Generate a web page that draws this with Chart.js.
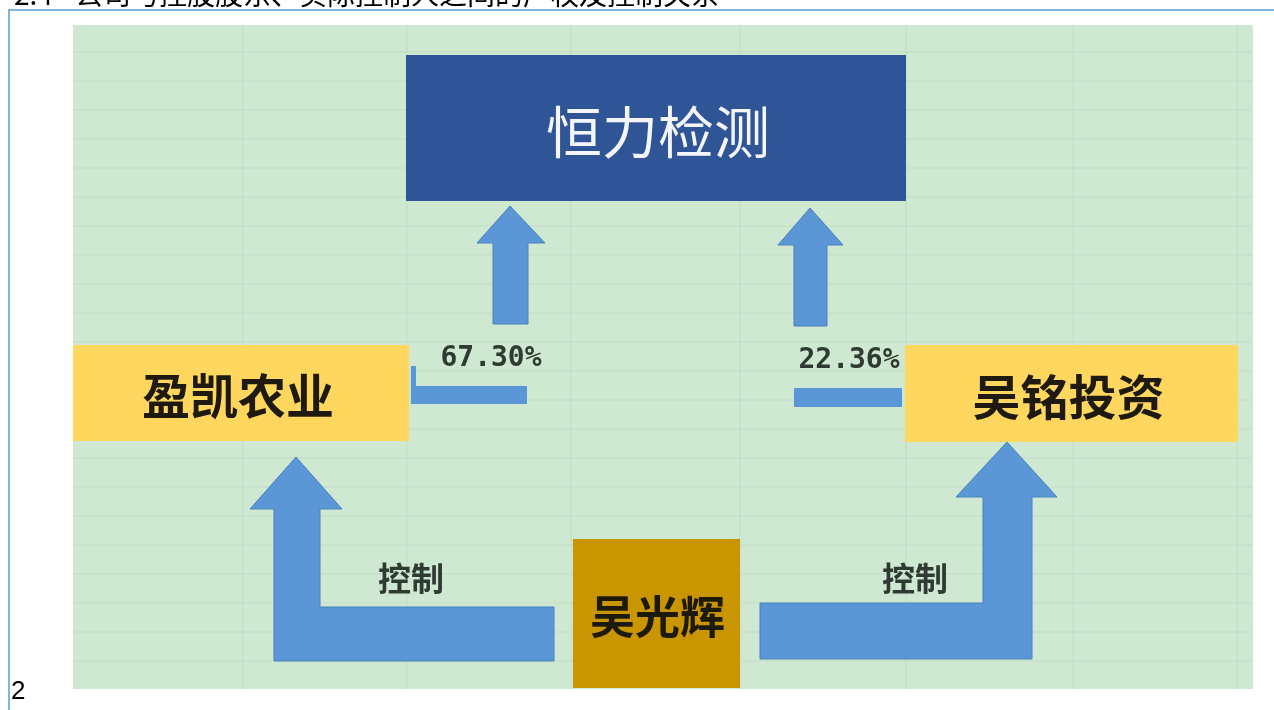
<!DOCTYPE html>
<html>
<head>
<meta charset="utf-8">
<script src="https://cdn.jsdelivr.net/npm/chart.js@4/dist/chart.umd.min.js"></script>
<style>
html, body { margin: 0; padding: 0; background: #fff; }
#wrap { width: 1274px; height: 710px; }
</style>
</head>
<body>
<div id="wrap"><canvas id="structureChart"></canvas></div>
<script>
// Chart data
const headingNumber = '2.4';
const headingText = '公司与控股股东、实际控制人之间的产权及控制关系';
const pageNumber = '2';
const companyName = '恒力检测';
const shareholders = ['盈凯农业', '吴铭投资'];
const shareholdings = [67.30, 22.36];
const controller = '吴光辉';
const controlLabels = ['控制', '控制'];

// Layout in page units (x scale runs 0..1274, y scale 0..710 top-down)
const layout = {
    picture: { x0: 73, y0: 25, x1: 1253, y1: 689 },
    gridCols: [243, 407, 571, 740, 906, 1073, 1237],
    gridRows: [52, 81, 110, 139, 168, 197, 226, 255, 284, 313, 342, 371, 400, 429, 458, 487, 516, 545, 574, 603, 632, 661],
    company: { x0: 406, y0: 55, x1: 906, y1: 201 },
    holders: [{ x0: 73, y0: 345, x1: 409, y1: 441 }, { x0: 905, y0: 345, x1: 1238, y1: 442 }],
    controller: { x0: 573, y0: 539, x1: 740, y1: 688 },
    upArrows: [
        { tx: 510, ty: 206, hl: 477, hr: 545, hb: 243, sl: 493, sr: 528, sb: 324 },
        { tx: 810, ty: 208, hl: 778, hr: 843, hb: 245, sl: 794, sr: 827, sb: 326 }
    ],
    stubs: [
        [[413, 386, 527, 404], [411, 366, 416, 404]],
        [[794, 388, 902, 407]]
    ],
    stakeText: [{ x: 491, y: 371 }, { x: 849, y: 373 }],
    controlArrows: [
        [[296, 457], [342, 509], [320, 509], [320, 607], [554, 607], [554, 661], [274, 661], [274, 509], [250, 509]],
        [[1007, 442], [1057, 497], [1032, 497], [1032, 659], [760, 659], [760, 603], [983, 603], [983, 497], [956, 497]]
    ],
    controlText: [{ x: 411, y: 578 }, { x: 915, y: 578 }]
};

const colors = {
    frame: '#5b9bd5',
    picture: '#cee8d1',
    grid: 'rgba(185,205,190,0.35)',
    company: '#2f5597',
    holder: '#ffd75e',
    controller: '#c99500',
    arrow: '#5b97d6',
    arrowEdge: '#4a80c0',
    label: '#2f3a33'
};

const cjk = '"Noto Sans CJK SC", "Noto Sans", sans-serif';

const diagramPlugin = {
    id: 'diagram',
    afterDatasetsDraw(chart) {
        const ctx = chart.ctx;
        const xs = chart.scales.x, ys = chart.scales.y;
        const X = v => xs.getPixelForValue(v);
        const Y = v => ys.getPixelForValue(v);
        const rect = (r, fill) => {
            ctx.fillStyle = fill;
            ctx.fillRect(X(r.x0), Y(r.y0), X(r.x1) - X(r.x0), Y(r.y1) - Y(r.y0));
        };
        const poly = pts => {
            ctx.beginPath();
            pts.forEach((p, i) => i ? ctx.lineTo(X(p[0]), Y(p[1])) : ctx.moveTo(X(p[0]), Y(p[1])));
            ctx.closePath();
            ctx.fillStyle = colors.arrow;
            ctx.fill();
            ctx.strokeStyle = colors.arrowEdge;
            ctx.lineWidth = 1;
            ctx.stroke();
        };
        const text = (str, x, y, font, fill) => {
            ctx.font = font;
            ctx.fillStyle = fill;
            ctx.textAlign = 'center';
            ctx.textBaseline = 'middle';
            ctx.fillText(str, X(x), Y(y));
        };

        ctx.save();

        // page heading, cut off at top edge
        ctx.fillStyle = '#000';
        ctx.font = '28px ' + cjk;
        ctx.textAlign = 'left';
        ctx.textBaseline = 'alphabetic';
        ctx.fillText(headingNumber, X(14), Y(5));
        ctx.fillText(headingText, X(75), Y(5));

        // frame
        ctx.strokeStyle = colors.frame;
        ctx.lineWidth = 1.5;
        ctx.beginPath();
        ctx.moveTo(X(1274), Y(10));
        ctx.lineTo(X(9), Y(10));
        ctx.lineTo(X(9), Y(710));
        ctx.stroke();

        // page number
        ctx.fillStyle = '#000';
        ctx.font = '26px "Liberation Sans", sans-serif';
        ctx.textAlign = 'left';
        ctx.textBaseline = 'alphabetic';
        ctx.fillText(pageNumber, X(11), Y(699));

        // picture background with spreadsheet grid
        const p = layout.picture;
        rect(p, colors.picture);
        ctx.strokeStyle = colors.grid;
        ctx.lineWidth = 1.5;
        layout.gridCols.forEach(c => {
            ctx.beginPath(); ctx.moveTo(X(c), Y(p.y0)); ctx.lineTo(X(c), Y(p.y1)); ctx.stroke();
        });
        layout.gridRows.forEach(r => {
            ctx.beginPath(); ctx.moveTo(X(p.x0), Y(r)); ctx.lineTo(X(p.x1), Y(r)); ctx.stroke();
        });

        // arrows
        layout.upArrows.forEach(a => poly([
            [a.tx, a.ty], [a.hr, a.hb], [a.sr, a.hb], [a.sr, a.sb],
            [a.sl, a.sb], [a.sl, a.hb], [a.hl, a.hb]
        ]));
        layout.stubs.forEach(list => list.forEach(s => {
            ctx.fillStyle = colors.arrow;
            ctx.fillRect(X(s[0]), Y(s[1]), X(s[2]) - X(s[0]), Y(s[3]) - Y(s[1]));
        }));
        layout.controlArrows.forEach(poly);

        // boxes
        rect(layout.company, colors.company);
        layout.holders.forEach(h => rect(h, colors.holder));
        rect(layout.controller, colors.controller);

        // box labels
        const c = layout.company;
        text(companyName, (c.x0 + c.x1) / 2 + 2, (c.y0 + c.y1) / 2 + 4, '400 56px ' + cjk, '#f4f6fb');
        shareholders.forEach((s, i) => {
            const h = layout.holders[i];
            text(s, (h.x0 + h.x1) / 2 - 3, (h.y0 + h.y1) / 2 + 3, 'bold 48px ' + cjk, '#1e1a10');
        });
        const k = layout.controller;
        text(controller, (k.x0 + k.x1) / 2 + 1, 617, 'bold 45px ' + cjk, '#1e1a0a');

        // shareholding and control labels
        shareholdings.forEach((v, i) => {
            const t = layout.stakeText[i];
            text(v.toFixed(2) + '%', t.x, t.y - 12, 'bold 28px "DejaVu Sans Mono", monospace', colors.label);
        });
        controlLabels.forEach((s, i) => {
            const t = layout.controlText[i];
            text(s, t.x, t.y, 'bold 33px ' + cjk, colors.label);
        });

        ctx.restore();
    }
};

const ctx = document.getElementById('structureChart').getContext('2d');
new Chart(ctx, {
    type: 'scatter',
    data: {
        datasets: [{
            label: 'nodes',
            data: [],
            pointRadius: 0
        }]
    },
    options: {
        responsive: true,
        maintainAspectRatio: false,
        animation: false,
        layout: { padding: 0 },
        plugins: { legend: { display: false }, tooltip: { enabled: false } },
        scales: {
            x: { type: 'linear', min: 0, max: 1274, display: false },
            y: { type: 'linear', min: 0, max: 710, reverse: true, display: false }
        }
    },
    plugins: [diagramPlugin]
});
</script>
</body>
</html>
